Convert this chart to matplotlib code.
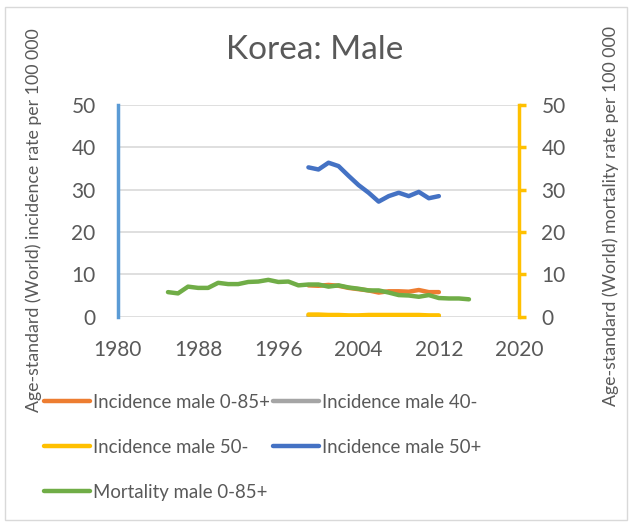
import matplotlib.pyplot as plt
from matplotlib.patches import Rectangle

plt.rcParams["font.family"] = ["Lato", "DejaVu Sans"]

# ---- data ----
years_inc = list(range(1999, 2013))
inc_0_85 = [7.4, 7.3, 7.5, 7.3, 6.8, 6.5, 6.2, 5.7, 6.0, 6.0, 5.9, 6.3, 5.8, 5.8]
inc_40 = [0.2, 0.2, 0.2, 0.2, 0.1, 0.1, 0.2, 0.2, 0.2, 0.2, 0.2, 0.1, 0.1, 0.1]
inc_50m = [0.5, 0.5, 0.4, 0.4, 0.3, 0.3, 0.4, 0.4, 0.4, 0.4, 0.4, 0.4, 0.3, 0.3]
inc_50p = [35.3, 34.8, 36.4, 35.6, 33.3, 31.1, 29.3, 27.2, 28.5, 29.3, 28.5, 29.5, 28.0, 28.5]

years_mort = list(range(1985, 2016))
mort_0_85 = [5.8, 5.5, 7.1, 6.8, 6.8, 8.0, 7.7, 7.7, 8.2, 8.3, 8.7, 8.2, 8.3, 7.4,
             7.6, 7.6, 7.1, 7.4, 6.9, 6.6, 6.2, 6.2, 5.7, 5.1, 5.0, 4.7, 5.1, 4.4,
             4.3, 4.3, 4.1]

x_ticks = [1980, 1988, 1996, 2004, 2012, 2020]
y_ticks = [0, 10, 20, 30, 40, 50]

c_orange, c_gray, c_yellow, c_blue, c_green = "#ED7D31", "#A5A5A5", "#FFC000", "#4472C4", "#70AD47"
txt = "#595959"

fig = plt.figure(figsize=(6.3, 5.26), dpi=100)
fig.patches.append(Rectangle((5 / 630, 6 / 526), 622 / 630, 513 / 526, transform=fig.transFigure,
                             fill=False, edgecolor="#D9D9D9", lw=1))
ax = fig.add_axes([0.187, 0.398, 0.637, 0.402])
ax2 = ax.twinx()

lw = 3.2
l1, = ax.plot(years_inc, inc_0_85, color=c_orange, lw=lw, solid_capstyle="round", label="Incidence male 0-85+")
l2, = ax.plot(years_inc, inc_40, color=c_gray, lw=lw, solid_capstyle="round", label="Incidence male 40-")
l3, = ax.plot(years_inc, inc_50m, color=c_yellow, lw=lw, solid_capstyle="round", label="Incidence male 50-")
l4, = ax.plot(years_inc, inc_50p, color=c_blue, lw=lw, solid_capstyle="round", label="Incidence male 50+")
l5, = ax2.plot(years_mort, mort_0_85, color=c_green, lw=lw, solid_capstyle="round", label="Mortality male 0-85+")

for a in (ax, ax2):
    a.set_xlim(1980, 2020)
    a.set_ylim(0, 50)
    a.set_yticks(y_ticks)
    for s in a.spines.values():
        s.set_visible(False)

ax.set_xticks(x_ticks)
ax.grid(True, axis="y", color="#D9D9D9", lw=1.2)
ax.set_axisbelow(True)
ax.spines["left"].set_visible(True)
ax.spines["left"].set_color("#5B9BD5")
ax.spines["left"].set_linewidth(2.5)
ax.tick_params(axis="y", length=0, labelsize=15, labelcolor=txt, pad=16)
ax.tick_params(axis="x", length=0, labelsize=15, labelcolor=txt, pad=17)

ax2.spines["right"].set_visible(True)
ax2.spines["right"].set_color(c_yellow)
ax2.spines["right"].set_linewidth(2.5)
ax2.tick_params(axis="y", length=5, width=2.5, color=c_yellow, direction="out",
                labelsize=15, labelcolor=txt, pad=11)

ax.set_ylabel("Age-standard (World) incidence rate per 100 000", fontsize=12.8, color=txt)
ax2.set_ylabel("Age-standard (World) mortality rate per 100 000", fontsize=12.8, color=txt)
ax.yaxis.set_label_coords(-0.19, 0.458)
ax2.yaxis.set_label_coords(1.207, 0.474)

fig.text(0.5, 1 - 50 / 526, "Korea: Male", fontsize=24, color=txt, ha="center", va="center")

fig.legend(handles=[l1, l3, l5, l2, l4], loc="upper left", bbox_to_anchor=(44 / 630, 1 - 394 / 526),
           ncol=2, frameon=False, fontsize=13.4, labelcolor=txt, handlelength=2.45,
           handletextpad=0.16, columnspacing=0.2, labelspacing=1.5, borderaxespad=0, borderpad=0)

fig.savefig("out.png", dpi=100)
